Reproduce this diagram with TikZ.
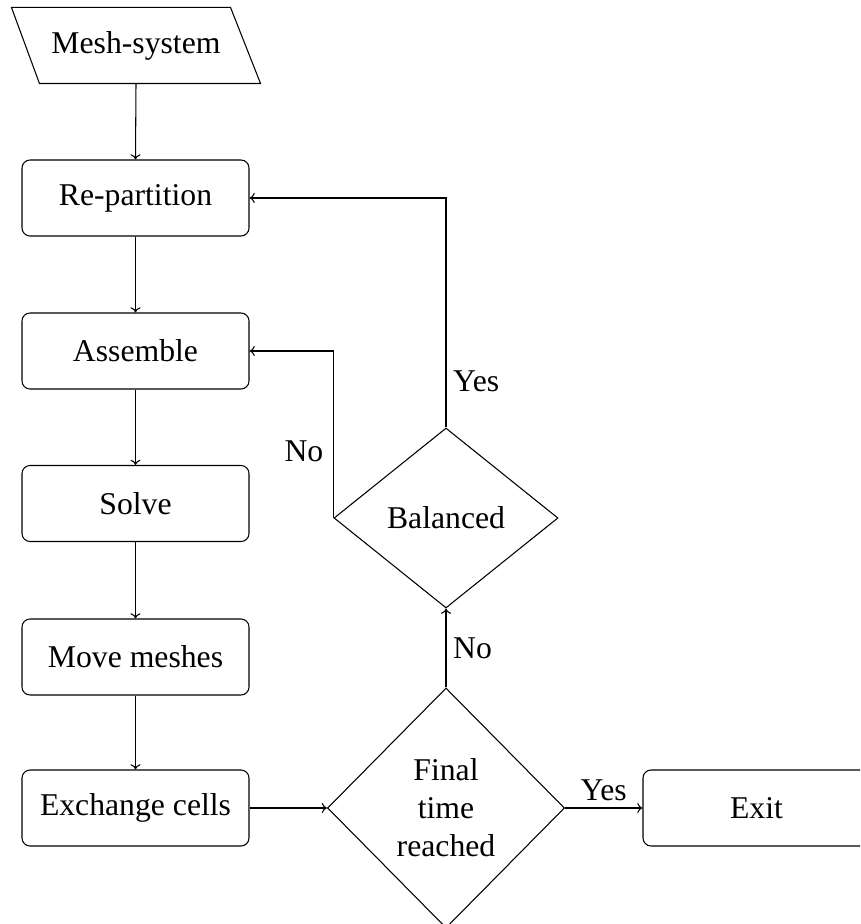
\documentclass[tikz,border=0pt]{standalone}
\usepackage{fontspec}
\setmainfont{Liberation Serif}
\usetikzlibrary{shapes.geometric,calc,arrows.meta}
\begin{document}
\begin{tikzpicture}[x=0.5pt,y=-0.5pt,
  font=\fontsize{15.85}{19}\selectfont,
  line width=0.53pt,
  >={To[width=5pt,length=2.6pt]},
  box/.style={draw, rounded corners=4pt, minimum width=113.5pt, minimum height=38pt, inner sep=0pt},
  dec/.style={draw, diamond, inner sep=0pt, align=center},
  arr/.style={->}]
\useasboundingbox (0,0) rectangle (860,924);
\clip (0,0) rectangle (860,924);

% input parallelogram
\node[minimum width=124pt, minimum height=37.5pt, inner sep=0pt] (mesh) at (136,45.5) {Mesh-system};
\draw (mesh.north west) -- ($(mesh.north east)+(-30,0)$) -- (mesh.south east) -- ($(mesh.south west)+(28,0)$) -- cycle;

\node[box] (rep) at (135.5,198) {Re-partition};
\node[box] (asm) at (135.5,351) {Assemble};
\node[box] (sol) at (135.5,503.5) {Solve};
\node[box] (mov) at (135.5,657) {Move meshes};
\node[box] (exc) at (135.5,808) {Exchange cells};
\node[box] (exit) at (756.5,808) {Exit};

\node[dec, minimum width=112pt, minimum height=90pt] (bal) at (446,518) {Balanced};
\node[dec, minimum width=118.5pt, minimum height=120pt] (fin) at (446,808) {Final\\time\\reached};

\draw[arr] (mesh.south) -- (rep.north);
\draw[arr] (rep.south) -- (asm.north);
\draw[arr] (asm.south) -- (sol.north);
\draw[arr] (sol.south) -- (mov.north);
\draw[arr] (mov.south) -- (exc.north);
\draw[arr] (exc.east) -- (fin.west);
\draw[arr] (fin.east) -- node[above]{Yes} (exit.west);
\draw[arr] (fin.north) -- node[right]{No} (bal.south);
\draw[arr] (bal.north) |- node[pos=0.1, right]{Yes} (rep.east);
\draw[arr] (bal.west) |- node[pos=0.2, left, xshift=-1.5pt]{No} (asm.east);
\end{tikzpicture}
\end{document}
